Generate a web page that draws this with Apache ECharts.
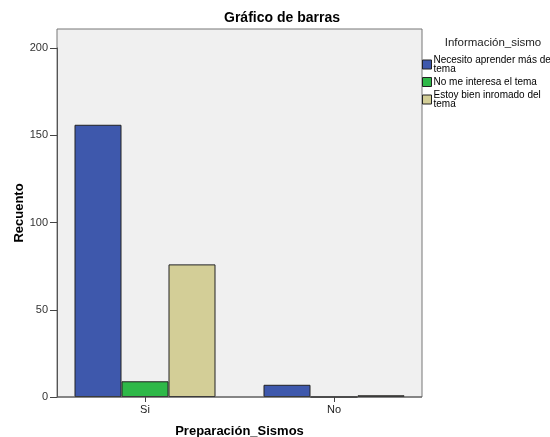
<!DOCTYPE html>
<html>
<head>
<meta charset="utf-8">
<script src="https://cdn.jsdelivr.net/npm/echarts@6/dist/echarts.min.js"></script>
<style>html,body{margin:0;padding:0;background:#fff}#c{width:550px;height:437px}</style>
</head>
<body>
<div id="c"></div>
<script>
const categories = ['Si', 'No'];
const seriesNames = ['Necesito aprender más del tema', 'No me interesa el tema', 'Estoy bien inromado del tema'];
const legendLabels = ['Necesito aprender más del\ntema', 'No me interesa el tema', 'Estoy bien inromado del\ntema'];
const necesitoValues = [156, 7];
const noInteresaValues = [9, 0];
const bienInformadoValues = [76, 1];
const yTicks = [0, 50, 100, 150, 200];
const colors = ['#3E58AC', '#2EB848', '#D3CE97'];

const FONT = '"Liberation Sans", Arial, sans-serif';
const chart = echarts.init(document.getElementById('c'), null, {renderer: 'canvas'});
const values = [necesitoValues, noInteresaValues, bienInformadoValues];

const option = {
  animation: false,
  textStyle: {fontFamily: FONT},
  title: [
    {text: 'Gráfico de barras', left: 277, top: 6, textAlign: 'center',
     textStyle: {fontFamily: FONT, fontSize: 14, fontWeight: 'bold', color: '#000'}},
    {text: 'Información_sismo', left: 488, top: 32, textAlign: 'center',
     textStyle: {fontFamily: FONT, fontSize: 11.5, fontWeight: 'normal', color: '#222'}}
  ],
  legend: {
    orient: 'vertical', left: 422, top: 55, itemWidth: 9, itemHeight: 9, itemGap: 3,
    icon: 'rect', padding: 0,
    data: seriesNames,
    formatter: function (n) { return legendLabels[seriesNames.indexOf(n)]; },
    textStyle: {fontFamily: FONT, fontSize: 10, lineHeight: 9, color: '#000', padding: [0, 0, 0, -3]},
    itemStyle: {borderColor: '#222', borderWidth: 1}
  },
  grid: {left: 50.5, right: 121.5, top: 48, bottom: 40, containLabel: false, outerBoundsMode: 'none'},
  graphic: [
    {type: 'rect', z: -10, shape: {x: 57, y: 29, width: 365, height: 368},
     style: {fill: '#F0F0F0', stroke: '#777', lineWidth: 1}},
    {type: 'line', z: 10, shape: {x1: 57, y1: 397, x2: 422, y2: 397},
     style: {stroke: '#555', lineWidth: 1}},
    {type: 'text', x: 19, y: 213, rotation: Math.PI / 2,
     style: {text: 'Recuento', font: 'bold 13px ' + FONT, fill: '#000', align: 'center', verticalAlign: 'middle'}}
  ],
  xAxis: {
    type: 'category', data: categories,
    name: 'Preparación_Sismos', nameLocation: 'middle', nameGap: 28,
    nameTextStyle: {fontFamily: FONT, fontSize: 13, fontWeight: 'bold', color: '#000'},
    axisLine: {show: false},
    axisTick: {show: true, alignWithLabel: true, length: 5, lineStyle: {color: '#444'}},
    axisLabel: {fontFamily: FONT, fontSize: 11, color: '#222', margin: 7},
    splitLine: {show: false}
  },
  yAxis: {
    type: 'value', min: 0, max: 200, interval: 50, offset: -6.5,
    axisLine: {show: true, lineStyle: {color: '#555'}},
    axisTick: {show: true, length: 7, lineStyle: {color: '#444'}},
    axisLabel: {fontFamily: FONT, fontSize: 11, color: '#333', margin: 9},
    splitLine: {show: false}
  },
  series: seriesNames.map((n, i) => ({
    name: n, type: 'bar', data: values[i], barWidth: 47, barGap: '0%',
    itemStyle: {color: colors[i], borderColor: '#222', borderWidth: 1},
    z: 2
  }))
};
chart.setOption(option);
</script>
</body>
</html>
